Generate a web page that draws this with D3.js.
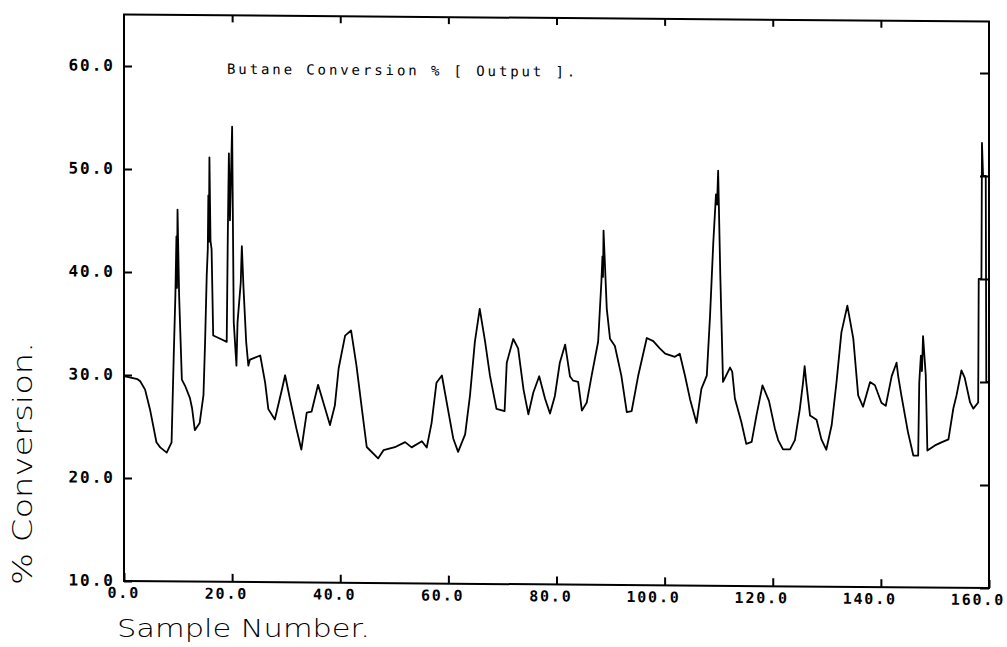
<!DOCTYPE html>
<html>
<head>
<meta charset="utf-8">
<script src="https://cdn.jsdelivr.net/npm/d3@7"></script>
<style>
  html, body { margin: 0; padding: 0; background: #fff; }
  svg { display: block; }
</style>
</head>
<body>
<svg id="chart" width="1007" height="647"></svg>
<script>
// ---- data ----
const sampleNo = [
  0, 2.5, 3.0, 3.9, 4.8, 5.4, 6.0, 6.7, 7.9, 8.8, 9.2, 9.5, 9.7, 9.8, 9.9, 10.2, 10.7, 11.3,
  12.2, 12.6, 13.1, 14.0, 14.7, 15.0, 15.3, 15.5, 15.6, 15.7, 15.8, 16.0, 16.2, 16.5, 17.8, 19.0,
  19.2, 19.4, 19.6, 20.0, 20.3, 20.8, 21.0, 21.6, 21.7, 21.8, 22.1, 22.6, 23.0, 23.3, 25.2, 26.1,
  26.7, 27.9, 29.2, 29.8, 30.7, 31.9, 32.8, 33.8, 34.7,
  35.9, 37.2, 38.1, 39.0, 39.7, 40.9, 42.0, 43.0, 44.0, 44.9, 47.0, 48.0, 50.1, 52.0, 53.2, 55.1,
  56.0, 56.9, 57.8, 58.8,
  60.0, 60.9, 61.8, 63.1, 64.0, 64.9, 65.8, 66.8, 67.7, 68.9, 70.4, 70.8, 72.0, 72.9, 73.9, 74.8,
  75.7, 76.8, 77.9, 78.8, 79.7, 80.6, 81.6, 82.5,
  83.1, 84.0, 84.7, 85.6, 86.5, 87.7, 88.3, 88.5, 88.6, 88.7, 89.3, 89.9, 90.8, 92.0, 93.0, 93.9,
  95.1, 96.7, 97.9, 99.1, 100.1, 101.9, 102.8, 103.8, 104.7, 105.9,
  106.8, 107.8, 108.4, 109.0, 109.5, 109.7, 109.9, 110.3, 110.8, 112.1, 112.5, 113.0, 114.2, 115.1,
  116.1, 117.0, 118.1, 119.3, 120.4, 121.0, 121.9, 123.2, 124.1, 125.0, 125.6, 125.9, 126.2, 126.9,
  128.1, 129.0, 129.9,
  130.9, 131.8, 132.7, 133.8, 134.9, 135.8, 136.7, 138.0, 138.9, 140.1, 140.9, 142.0, 142.9, 143.2,
  143.8, 145.0, 146.0, 146.9, 147.1, 147.4, 147.6, 147.8, 148.3, 148.6, 150.0, 151.2, 152.5,
  153.4, 154.0, 154.9, 155.5, 156.5, 157.1, 158.0, 158.1, 158.6, 158.7, 158.9, 159.4, 159.5, 160.0
];
const conversion = [
  29.9, 29.6, 29.4, 28.6, 26.7, 25.1, 23.5, 23.0, 22.5, 23.5, 31.9, 37.7, 43.5, 38.5, 46.1, 37.7, 29.6, 29.0,
  27.8, 26.8, 24.7, 25.4, 28.1, 33.3, 39.7, 42.3, 47.5, 43.0, 51.2, 43.1, 42.3, 33.9, 33.6, 33.3,
  43.6, 51.6, 45.1, 54.2, 35.2, 31.0, 35.2, 39.1, 41.0, 42.6, 38.6, 33.3, 31.0, 31.6, 32.0, 29.4,
  26.8, 25.8, 28.7, 30.1, 27.8, 24.9, 22.9, 26.5, 26.6,
  29.2, 26.9, 25.3, 27.2, 30.8, 34.0, 34.5, 31.1, 26.9, 23.2, 22.1, 22.9, 23.2, 23.7, 23.2, 23.8,
  23.2, 25.6, 29.5, 30.2,
  26.7, 24.1, 22.8, 24.5, 28.3, 33.5, 36.7, 33.5, 30.2, 27.0, 26.8, 31.5, 33.8, 32.9, 28.9, 26.5,
  28.6, 30.2, 28.0, 26.6, 28.3, 31.5, 33.3, 30.2,
  29.8, 29.7, 26.9, 27.7, 30.3, 33.6, 39.4, 41.9, 39.9, 44.4, 36.8, 33.9, 33.2, 30.3, 26.8, 26.9,
  30.3, 34.0, 33.7, 33.0, 32.5, 32.2, 32.5, 30.3, 28.1, 25.8,
  29.1, 30.4, 36.2, 43.3, 48.0, 47.0, 50.3, 40.1, 29.8, 31.2, 30.8, 28.2, 25.9, 23.8,
  24.0, 26.6, 29.5, 28.0, 25.3, 24.2, 23.3, 23.3, 24.2, 27.2, 29.8, 31.4, 29.8, 26.6,
  26.2, 24.3, 23.3,
  25.7, 29.9, 34.7, 37.3, 34.1, 28.6, 27.5, 29.9, 29.6, 27.9, 27.6, 30.5, 31.8, 30.5,
  28.6, 25.1, 22.8, 22.8, 29.9, 32.5, 31.0, 34.4, 30.6, 23.3, 23.8, 24.1, 24.4,
  27.4, 28.7, 31.1, 30.4, 28.0, 27.4, 28.0, 40.0, 40.0, 53.2, 50.0, 50.0, 30.0, 30.0
];
const xTicks = [0, 20, 40, 60, 80, 100, 120, 140, 160];
const xTickLabels = ["0.0", "20.0", "40.0", "60.0", "80.0", "100.0", "120.0", "140.0", "160.0"];
const yTicks = [10, 20, 30, 40, 50, 60];
const yTickLabels = ["10.0", "20.0", "30.0", "40.0", "50.0", "60.0"];
const xDomain = [0, 160];
const yDomain = [10, 65];
const titleText = "Butane Conversion % [ Output ].";
const xLabelText = "Sample Number.";
const yLabelText = "% Conversion.";

(function () {
  // ---- layout ----
  const mLeft = 124, mRight = 989, mTop = 14.5, mBottom = 581;
  const svg = d3.select("#chart");

  const x = d3.scaleLinear().domain(xDomain).range([mLeft, mRight]);
  const y = d3.scaleLinear().domain(yDomain).range([mBottom, mTop]);

  // the scanned page is slightly sheared: right side sits lower
  const g = svg.append("g")
    .attr("transform", `translate(${mLeft},0) skewY(0.464) translate(${-mLeft},0)`);

  const monoFont = "'DejaVu Sans Mono', 'Liberation Mono', monospace";

  // frame
  g.append("rect")
    .attr("x", mLeft).attr("y", mTop)
    .attr("width", mRight - mLeft).attr("height", mBottom - mTop)
    .attr("fill", "none").attr("stroke", "#000").attr("stroke-width", 2);

  // axes with inward ticks
  const axB = g.append("g").attr("transform", `translate(0,${mBottom})`)
    .call(d3.axisBottom(x).tickValues(xTicks).tickSize(-8).tickFormat(""));
  const axT = g.append("g").attr("transform", `translate(0,${mTop})`)
    .call(d3.axisTop(x).tickValues(xTicks.slice(1, -1)).tickSize(-7).tickFormat(""));
  const axL = g.append("g").attr("transform", `translate(${mLeft},0)`)
    .call(d3.axisLeft(y).tickValues(yTicks).tickSize(-8).tickFormat(""));
  const axR = g.append("g").attr("transform", `translate(${mRight},0)`)
    .call(d3.axisRight(y).tickValues(yTicks).tickSize(-9).tickFormat(""));
  [axB, axT, axL, axR].forEach(a => {
    a.select(".domain").remove();
    a.selectAll(".tick line").attr("stroke", "#000").attr("stroke-width", 2);
  });

  // tick labels
  g.append("g").selectAll("text")
    .data(xTicks)
    .join("text")
    .attr("x", d => x(d) + 16)
    .attr("y", mBottom + 17)
    .attr("text-anchor", "end")
    .attr("font-family", monoFont)
    .attr("font-size", 15)
    .attr("letter-spacing", 1.8)
    .attr("font-weight", "bold")
    .text((d, i) => xTickLabels[i]);

  g.append("g").selectAll("text")
    .data(yTicks)
    .join("text")
    .attr("x", 115)
    .attr("y", d => y(d) + 5)
    .attr("text-anchor", "end")
    .attr("font-family", monoFont)
    .attr("font-size", 16)
    .attr("letter-spacing", 2)
    .attr("font-weight", "bold")
    .text((d, i) => yTickLabels[i]);

  // title inside plot
  g.append("text")
    .attr("x", 227)
    .attr("y", 73)
    .attr("font-family", monoFont)
    .attr("font-size", 14)
    .attr("letter-spacing", 2.9)
    .text(titleText);

  // data line
  const line = d3.line()
    .x((d, i) => x(sampleNo[i]))
    .y(d => y(d));
  g.append("path")
    .datum(conversion)
    .attr("d", line)
    .attr("fill", "none")
    .attr("stroke", "#000")
    .attr("stroke-width", 1.8)
    .attr("stroke-linejoin", "round");

  // axis titles
  svg.append("text")
    .attr("x", 117)
    .attr("y", 637)
    .attr("font-family", "'DejaVu Sans', sans-serif")
    .attr("font-weight", 200)
    .attr("font-size", 25)
    .attr("textLength", 253)
    .attr("lengthAdjust", "spacingAndGlyphs")
    .text(xLabelText);

  svg.append("text")
    .attr("transform", "translate(32,585) rotate(-90)")
    .attr("x", 0).attr("y", 0)
    .attr("font-family", "'DejaVu Sans', sans-serif")
    .attr("font-weight", 200)
    .attr("font-size", 26)
    .attr("textLength", 243)
    .attr("lengthAdjust", "spacingAndGlyphs")
    .text(yLabelText);
})();
</script>
</body>
</html>
